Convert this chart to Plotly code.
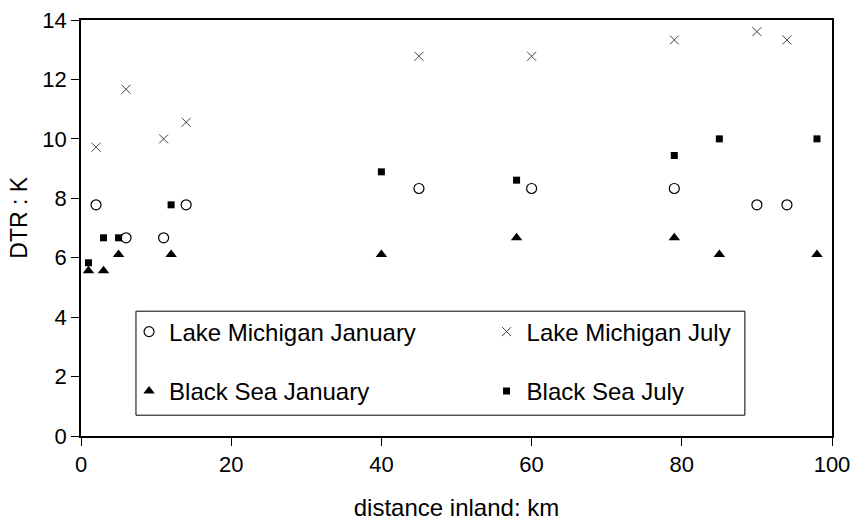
import plotly.graph_objects as go

# Diurnal temperature range vs distance inland
lm_dist = [2, 6, 11, 14, 45, 60, 79, 90, 94]
lm_jan = [7.78, 6.67, 6.67, 7.78, 8.33, 8.33, 8.33, 7.78, 7.78]
lm_jul = [9.72, 11.67, 10.0, 10.56, 12.78, 12.78, 13.33, 13.61, 13.33]

bs_dist = [1, 3, 5, 12, 40, 58, 79, 85, 98]
bs_jan = [5.56, 5.56, 6.11, 6.11, 6.11, 6.67, 6.67, 6.11, 6.11]
bs_jul = [5.83, 6.67, 6.67, 7.78, 8.89, 8.61, 9.44, 10.0, 10.0]

x_ticks = [0, 20, 40, 60, 80, 100]
y_ticks = [0, 2, 4, 6, 8, 10, 12, 14]

FONT = "Liberation Sans, Arial, sans-serif"

fig = go.Figure()
fig.add_trace(go.Scatter(
    x=lm_dist, y=lm_jan, mode="markers", name="Lake Michigan January",
    marker=dict(symbol="circle-open", size=10, color="black", line=dict(width=1.2)),
    legend="legend", showlegend=True,
))
fig.add_trace(go.Scatter(
    x=lm_dist, y=lm_jul, mode="markers", name="Lake Michigan July",
    marker=dict(symbol="x-thin-open", size=9, color="#444444", line=dict(width=1)),
    legend="legend2", showlegend=True,
))
fig.add_trace(go.Scatter(
    x=bs_dist, y=bs_jan, mode="markers", name="Black Sea January",
    marker=dict(symbol="triangle-up", size=10, color="black"),
    legend="legend3", showlegend=True,
))
fig.add_trace(go.Scatter(
    x=bs_dist, y=bs_jul, mode="markers", name="Black Sea July",
    marker=dict(symbol="square", size=7, color="black"),
    legend="legend4", showlegend=True,
))

axis_common = dict(
    showgrid=False, zeroline=False, showline=True, linecolor="black", linewidth=1.5,
    mirror=True, ticks="outside", ticklen=8, tickwidth=1, tickcolor="black",
    tickfont=dict(family=FONT, size=22, color="black"), automargin=False,
)

# one legend per entry, arranged as a 2 x 2 grid inside a single frame
legend_common = dict(
    orientation="h", xanchor="left", yanchor="middle",
    bgcolor="rgba(0,0,0,0)", borderwidth=0,
    font=dict(family=FONT, size=24, color="black"),
)
col_x = [0.064, 0.540]
row_y = [0.25, 0.107]

fig.update_layout(
    width=851, height=521,
    showlegend=True,
    margin=dict(l=81, r=19, t=20, b=85),
    paper_bgcolor="white", plot_bgcolor="white",
    xaxis=dict(range=[0, 100], tickvals=x_ticks,
               title=dict(text="distance inland: km", font=dict(family=FONT, size=24, color="black"), standoff=24),
               **axis_common),
    yaxis=dict(range=[0, 14], tickvals=y_ticks, **axis_common),
    legend=dict(x=col_x[0], y=row_y[0], **legend_common),
    legend2=dict(x=col_x[1], y=row_y[0], **legend_common),
    legend3=dict(x=col_x[0], y=row_y[1], **legend_common),
    legend4=dict(x=col_x[1], y=row_y[1], **legend_common),
    shapes=[dict(type="rect", xref="paper", yref="paper",
                 x0=0.0732, x1=0.884, y0=0.05, y1=0.300,
                 line=dict(color="black", width=1), fillcolor="rgba(0,0,0,0)")],
    annotations=[dict(text="DTR : K", xref="paper", yref="paper",
                      x=-0.083, y=0.524, xanchor="center", yanchor="middle",
                      textangle=-90, showarrow=False,
                      font=dict(family=FONT, size=23, color="black"))],
)

fig.write_html("out.html")
